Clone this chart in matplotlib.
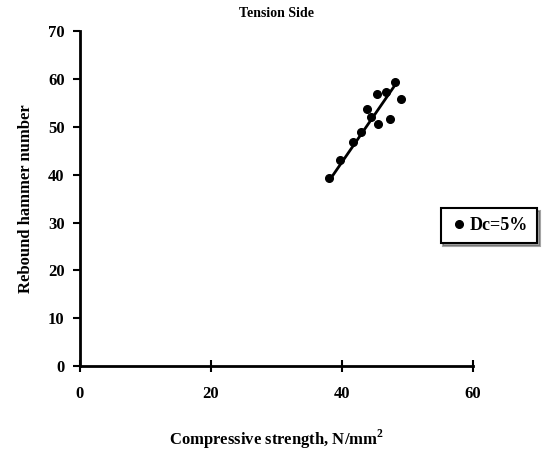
import matplotlib.pyplot as plt
import numpy as np

# compressive strength (N/mm2) vs rebound hammer number, Dc=5%
strength = [38.0, 39.7, 41.7, 43.0, 43.8, 44.5, 45.3, 45.5, 46.8, 47.3, 48.1, 49.0]
rebound = [39.4, 43.1, 46.8, 48.9, 53.8, 52.0, 56.9, 50.5, 57.3, 51.7, 59.4, 55.9]
x_ticks = [0, 20, 40, 60]
y_ticks = [0, 10, 20, 30, 40, 50, 60, 70]


def main():
    plt.rcParams['font.family'] = ['Liberation Serif', 'DejaVu Serif']
    plt.rcParams['font.weight'] = 'bold'
    plt.rcParams['mathtext.fontset'] = 'custom'
    plt.rcParams['mathtext.bf'] = 'Liberation Serif:bold'

    fig = plt.figure(figsize=(5.51, 4.51), dpi=100)
    ax = fig.add_axes([0.145, 0.188, 0.713, 0.743])

    ax.plot(strength, rebound, 'o', color='black', markersize=5.5, label='Dc=5%')

    # trendline: strength regressed on rebound number, over the rebound range
    b, a = np.polyfit(rebound, strength, 1)
    ys = np.array([min(rebound), max(rebound)])
    ax.plot(a + b * ys, ys, color='black', linewidth=2)

    ax.set_xlim(0, 60)
    ax.set_ylim(0, 70)
    ax.set_xticks(x_ticks)
    ax.set_yticks(y_ticks)
    ax.spines['top'].set_visible(False)
    ax.spines['right'].set_visible(False)
    ax.spines['left'].set_linewidth(2)
    ax.spines['bottom'].set_linewidth(2)
    ax.tick_params(axis='x', direction='inout', length=8, width=1.5, pad=10, labelsize=12)
    ax.tick_params(axis='y', direction='out', length=5, width=1.5, pad=6, labelsize=12)

    ax.set_title('Tension Side', fontsize=10, fontweight='bold', pad=10)
    ax.set_xlabel('Compressive strength, N/mm$^\\mathbf{2}$', fontsize=12, fontweight='bold', labelpad=19)
    ax.set_ylabel('Rebound hammer number', fontsize=12, fontweight='bold', labelpad=10)

    leg = ax.legend(loc='center', bbox_to_anchor=(0.887, 0.499), bbox_transform=fig.transFigure,
                    fancybox=False, shadow=True, edgecolor='black', fontsize=13,
                    handletextpad=0.1, handlelength=1.0, borderpad=0.5)
    leg.get_frame().set_linewidth(1.5)

    fig.savefig('out.png', dpi=100)


if __name__ == "__main__":
    main()
